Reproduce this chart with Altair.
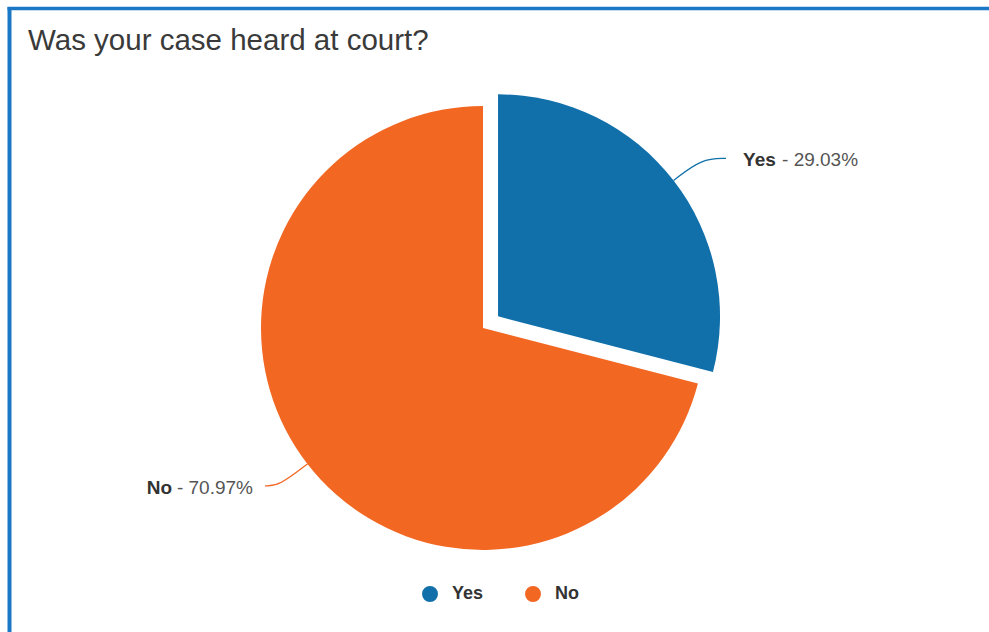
import math
import altair as alt
import pandas as pd

# ---- data ----
categories = ["Yes", "No"]
percentages = [29.03, 70.97]
slice_colors = ["#1170AA", "#F26722"]
title_text = "Was your case heard at court?"

df = pd.DataFrame({
    "category": categories,
    "pct": percentages,
    "order": list(range(len(categories))),
})

# ---- layout constants ----
FONT = "Liberation Sans"
TOP = 60
W, H = 989, 632 - TOP
R = 222
EXT = 36
CX, CY = 483, 328 - TOP
EXPLODE = {"Yes": 19, "No": 0}
LABEL_SIDE = {"Yes": dict(h=24, gap=17), "No": dict(h=14, gap=12)}
BORDER = "#1a78c6"

total = sum(percentages)
centers = {}
cum = 0.0
for c, p in zip(categories, percentages):
    mid = (cum + p / 2) / total * 2 * math.pi
    e = EXPLODE[c]
    centers[c] = (CX + e * math.sin(mid), CY - e * math.cos(mid))
    cum += p

theta_scale = alt.Scale(domain=[0, 1], range=[0, 2 * math.pi])
color_scale = alt.Scale(domain=categories, range=slice_colors)
legend = alt.Legend(
    title=None, orient="none", legendX=421, legendY=525, direction="horizontal",
    symbolType="circle", symbolSize=254, symbolStrokeWidth=0, symbolOpacity=1,
    labelFont=FONT, labelFontSize=18, labelFontWeight="bold", labelColor="#333333",
    labelOffset=13, columnPadding=40, padding=0,
)

base = (
    alt.Chart(df)
    .transform_joinaggregate(total="sum(pct)")
    .transform_window(cum="sum(pct)", sort=[alt.SortField("order")])
    .transform_calculate(
        start="(datum.cum - datum.pct) / datum.total",
        end="datum.cum / datum.total",
    )
    .transform_calculate(a="PI * (datum.start + datum.end)")
    .transform_calculate(sgn="sin(datum.a) >= 0 ? 1 : -1")
)

layers = []
for c, col in zip(categories, slice_colors):
    cx, cy = centers[c]
    h, gap = LABEL_SIDE[c]["h"], LABEL_SIDE[c]["gap"]
    sl = base.transform_filter(alt.datum.category == c)

    arc = sl.mark_arc(radius=R).encode(
        theta=alt.Theta("start:Q", scale=theta_scale),
        theta2="end:Q",
        color=alt.Color("category:N", scale=color_scale, legend=legend),
        x=alt.value(cx),
        y=alt.value(cy),
    )

    conn = (
        sl.transform_calculate(s0="0", s1="1", s2="2")
        .transform_fold(["s0", "s1", "s2"], as_=["step", "idx"])
        .transform_calculate(idx="toNumber(datum.idx)")
        .transform_calculate(
            rr=f"datum.idx == 0 ? {R} : {R + EXT}",
        )
        .transform_calculate(
            px=f"{cx} + datum.rr * sin(datum.a) + (datum.idx == 2 ? datum.sgn * {h} : 0)",
            py=f"{cy} - datum.rr * cos(datum.a)",
        )
        .mark_line(interpolate="basis", strokeWidth=1.3, color=col)
        .encode(
            x=alt.X("px:Q", scale=None, axis=None),
            y=alt.Y("py:Q", scale=None, axis=None),
            order=alt.Order("idx:Q"),
        )
    )

    lab = sl.transform_calculate(
        lx=f"{cx} + {R + EXT} * sin(datum.a) + datum.sgn * {h + gap}",
        ly=f"{cy} - {R + EXT} * cos(datum.a)",
        pct_label="'- ' + format(datum.pct, '.2f') + '%'",
    )
    if c == "Yes":
        name_t = lab.mark_text(align="left", baseline="alphabetic", dy=8, font=FONT,
                               fontSize=19, fontWeight="bold", color="#333333")
        pct_t = lab.mark_text(align="left", baseline="alphabetic", dy=8, dx=39, font=FONT,
                              fontSize=19, color="#555555")
    else:
        name_t = lab.mark_text(align="right", baseline="alphabetic", dy=8, dx=-81, font=FONT,
                               fontSize=19, fontWeight="bold", color="#333333")
        pct_t = lab.mark_text(align="right", baseline="alphabetic", dy=8, font=FONT,
                              fontSize=19, color="#555555")
    name_t = name_t.encode(x=alt.X("lx:Q", scale=None, axis=None),
                           y=alt.Y("ly:Q", scale=None, axis=None), text="category:N")
    pct_t = pct_t.encode(x=alt.X("lx:Q", scale=None, axis=None),
                         y=alt.Y("ly:Q", scale=None, axis=None), text="pct_label:N")
    layers += [arc, conn, name_t, pct_t]

frame_df = pd.DataFrame({"k": [0]})
top_rule = alt.Chart(frame_df).mark_rule(color=BORDER, strokeWidth=3.5).encode(
    x=alt.value(7.5), x2=alt.value(W), y=alt.value(8.5 - TOP))
left_rule = alt.Chart(frame_df).mark_rule(color=BORDER, strokeWidth=4).encode(
    x=alt.value(9.5), y=alt.value(7 - TOP), y2=alt.value(H))

chart = alt.layer(*layers, top_rule, left_rule).properties(
    width=W, height=H,
    padding={"left": 0, "right": 0, "top": TOP, "bottom": 0},
    autosize=alt.AutoSizeParams(type="none"),
    title=alt.TitleParams(title_text, anchor="start", dx=28, dy=82, fontSize=29.5, font=FONT,
                          fontWeight="normal", color="#3a3a3a", offset=8,
                          baseline="alphabetic", frame="group"),
).configure_view(stroke=None)

chart.save("out.html", embed_options={"renderer": "svg", "actions": False})
